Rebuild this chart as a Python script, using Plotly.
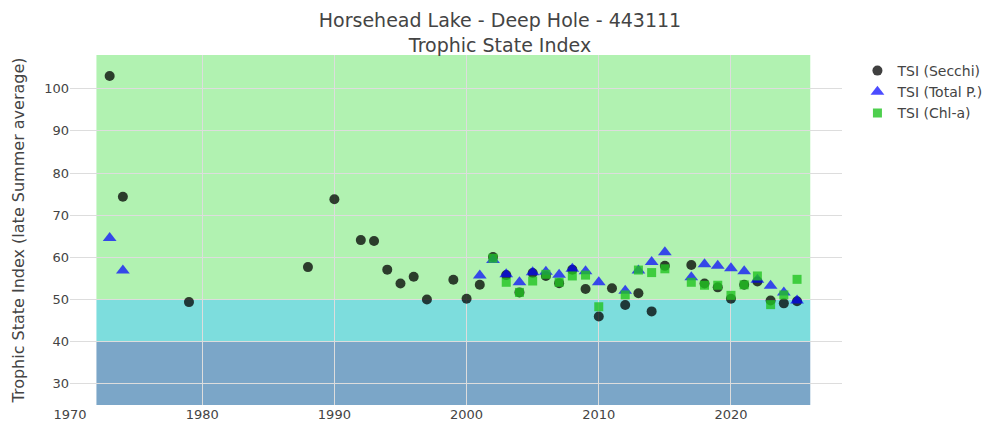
import plotly.graph_objects as go

# ---- data ----
secchi_years = [1973, 1974, 1979, 1988, 1990, 1992, 1993, 1994, 1995, 1996, 1997, 1999, 2000,
                2001, 2002, 2003, 2004, 2005, 2006, 2007, 2008, 2009, 2010, 2011, 2012, 2013,
                2014, 2015, 2017, 2018, 2019, 2020, 2021, 2022, 2023, 2024, 2025]
secchi_tsi = [103.0, 74.4, 49.4, 57.7, 73.8, 64.1, 63.9, 57.1, 53.8, 55.4, 50.0, 54.7, 50.2,
              53.5, 60.1, 55.8, 51.7, 56.3, 55.6, 53.9, 57.1, 52.5, 46.0, 52.7, 48.7, 51.5,
              47.2, 58.0, 58.2, 53.8, 52.9, 50.2, 53.5, 54.3, 49.8, 49.1, 49.6]

tp_years = [1973, 1974, 2001, 2002, 2003, 2004, 2005, 2006, 2007, 2008, 2009, 2010, 2012,
            2013, 2014, 2015, 2017, 2018, 2019, 2020, 2021, 2022, 2023, 2024, 2025]
tp_tsi = [64.6, 56.9, 55.7, 59.4, 56.0, 54.1, 56.5, 56.6, 55.9, 57.3, 56.7, 54.1, 52.1,
          56.9, 58.9, 61.2, 55.3, 58.4, 58.0, 57.4, 56.7, 54.7, 53.3, 51.7, 49.8]

chl_years = [2002, 2003, 2004, 2005, 2006, 2007, 2008, 2009, 2010, 2012, 2013, 2014, 2015,
             2017, 2018, 2019, 2020, 2021, 2022, 2023, 2024, 2025]
chl_tsi = [59.8, 54.1, 51.7, 54.4, 56.0, 54.1, 55.6, 55.8, 48.3, 51.1, 57.0, 56.4, 57.3,
           54.1, 53.4, 53.4, 51.0, 53.5, 55.6, 48.8, 51.1, 54.8]

# trophic bands: (lower, upper, color)
band_x = [1972, 2026]
band_bounds = [(25, 40), (40, 50), (50, 108)]
band_colors = ["#7ba6c8", "#7ddddd", "#b1f2b1"]

title_text = "Horsehead Lake - Deep Hole - 443111<br>Trophic State Index"
font_family = "DejaVu Sans, Verdana, sans-serif"

fig = go.Figure()
fig.add_trace(go.Scatter(x=secchi_years, y=secchi_tsi, mode="markers", name="TSI (Secchi)",
                         marker=dict(symbol="circle", size=10, color="black", opacity=0.75)))
fig.add_trace(go.Scatter(x=tp_years, y=tp_tsi, mode="markers", name="TSI (Total P.)",
                         marker=dict(symbol="triangle-up", size=12, color="blue", opacity=0.7)))
fig.add_trace(go.Scatter(x=chl_years, y=chl_tsi, mode="markers", name="TSI (Chl-a)",
                         marker=dict(symbol="square", size=9, color="#22c322", opacity=0.8)))

for (lo, hi), col in zip(band_bounds, band_colors):
    fig.add_shape(type="rect", xref="x", yref="y", x0=band_x[0], x1=band_x[1], y0=lo, y1=hi,
                  fillcolor=col, line=dict(width=0), layer="below")

fig.update_layout(
    width=984, height=414,
    margin=dict(l=62, r=150, t=47, b=17, autoexpand=False),
    paper_bgcolor="white", plot_bgcolor="white",
    font=dict(family=font_family, color="#444", size=13),
    title=dict(text=title_text, x=0.5, xanchor="center", yref="container",
               y=0.953, yanchor="middle", font=dict(size=19, color="#444")),
    legend=dict(font=dict(size=14)),
    xaxis=dict(range=[1970, 2028.4], showgrid=True, gridcolor="#dddddd", zeroline=False,
               dtick=10, tick0=1970, showline=False, ticks="", automargin=False),
    yaxis=dict(range=[25, 108], showgrid=True, gridcolor="#dddddd", zeroline=False,
               dtick=10, automargin=False, showline=False,
               title=dict(text="Trophic State Index (late Summer average)",
                          font=dict(size=16))),
)

fig.write_html("out.html")
